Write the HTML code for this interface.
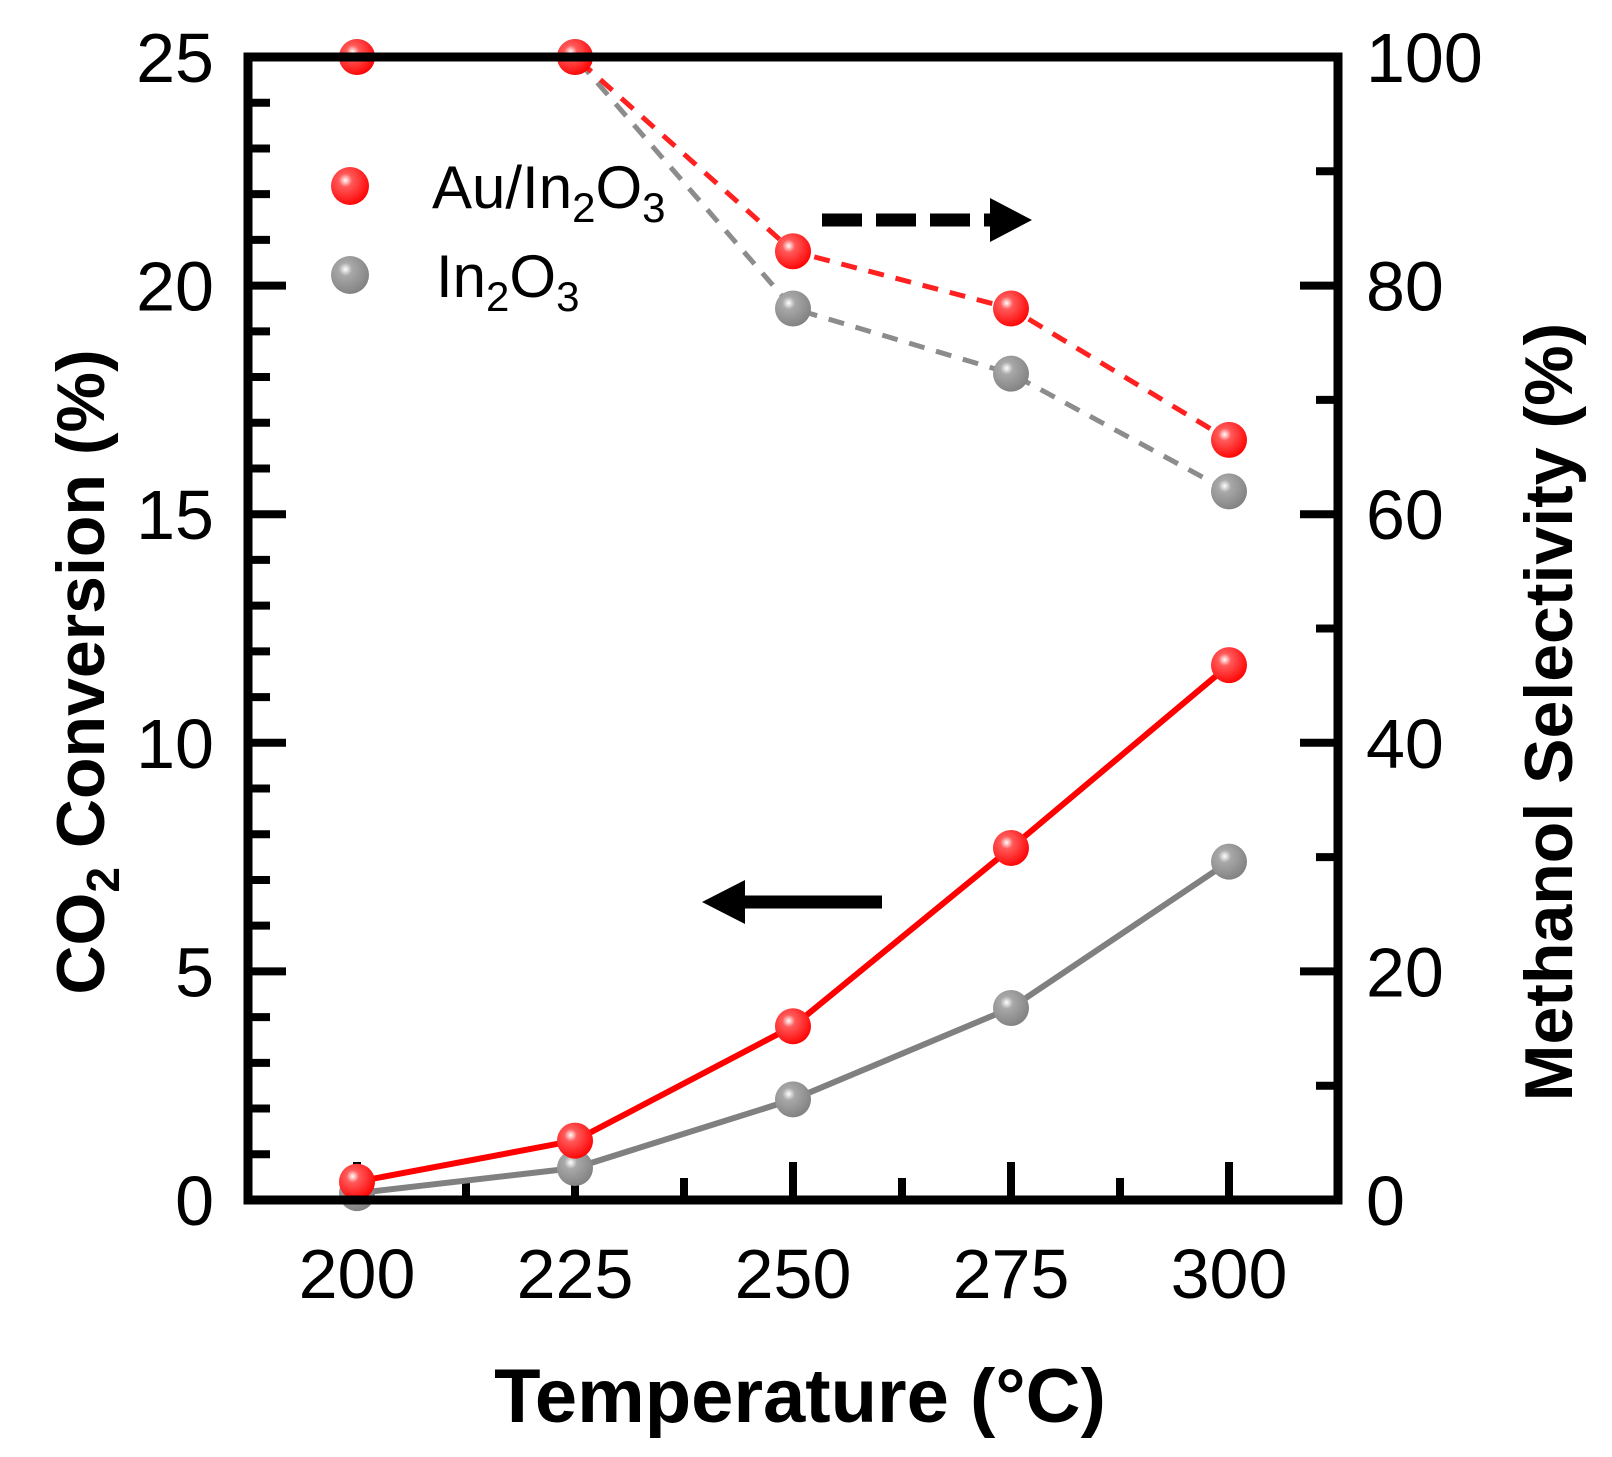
<!DOCTYPE html>
<html><head><meta charset="utf-8"><style>
body{margin:0;background:#fff}
svg{display:block;font-family:"Liberation Sans",sans-serif}
</style></head><body>
<svg id="chart" width="1612" height="1457" viewBox="0 0 1612 1457" xmlns="http://www.w3.org/2000/svg">
<defs>
<radialGradient id="gr" cx="0.38" cy="0.35" r="0.7"><stop offset="0" stop-color="#fff"/><stop offset="0.25" stop-color="#ff5a5a"/><stop offset="1" stop-color="#f00"/></radialGradient>
<radialGradient id="gg" cx="0.38" cy="0.35" r="0.7"><stop offset="0" stop-color="#fff"/><stop offset="0.25" stop-color="#a8a8a8"/><stop offset="1" stop-color="#808080"/></radialGradient>
</defs>
<g id="ticks"></g>
<g id="series"></g>
<rect x="248" y="57" width="1090" height="1143" fill="none" stroke="#000" stroke-width="9"/>
<g id="labels" font-size="70" fill="#000"></g>
<text transform="translate(104,672) rotate(-90)" text-anchor="middle" font-size="68" font-weight="bold">CO<tspan font-size="46" dy="15">2</tspan><tspan dy="-15"> Conversion (%)</tspan></text>
<text transform="translate(1572,712) rotate(-90)" text-anchor="middle" font-size="68" font-weight="bold">Methanol Selectivity (%)</text>
<text x="800" y="1422" text-anchor="middle" font-size="76" font-weight="bold">Temperature (°C)</text>
<g>
<circle cx="350" cy="186" r="19" fill="url(#gr)"/>
<text x="432" y="208" font-size="60">Au/In<tspan font-size="42" dy="14">2</tspan><tspan dy="-14">O</tspan><tspan font-size="42" dy="14">3</tspan></text>
<circle cx="350" cy="275" r="19" fill="url(#gg)"/>
<text x="436" y="297" font-size="60">In<tspan font-size="42" dy="14">2</tspan><tspan dy="-14">O</tspan><tspan font-size="42" dy="14">3</tspan></text>
</g>
<g>
<line x1="822" y1="220" x2="995" y2="220" stroke="#000" stroke-width="13" stroke-dasharray="40,14"/>
<polygon points="990,198 1032,220 990,242" fill="#000"/>
</g>
<g>
<line x1="740" y1="902" x2="882" y2="902" stroke="#000" stroke-width="13"/>
<polygon points="745,880 702,902 745,924" fill="#000"/>
</g>
</svg>
<script>
const temps=[200,225,250,275,300];
const convAu=[0.4,1.3,3.8,7.7,11.7];
const convIn=[0.15,0.7,2.2,4.2,7.4];
const selAu=[100,100,83,78,66.5];
const selIn=[100,100,78,72.3,62];
const xTicks=[200,225,250,275,300];
const yLeftTicks=[0,5,10,15,20,25];
const yRightTicks=[0,20,40,60,80,100];
const NS="http://www.w3.org/2000/svg";
const X0=248,X1=1338,Y0=1200,Y1=57;
const xs=v=>X0+(v-187.5)/(312.5-187.5)*(X1-X0);
const yl=v=>Y0-v/25*(Y0-Y1);
const yr=v=>Y0-v/100*(Y0-Y1);
function mk(tag,attrs,parent){const e=document.createElementNS(NS,tag);for(const k in attrs)e.setAttribute(k,attrs[k]);parent.appendChild(e);return e;}
const tg=document.getElementById('ticks'),lg=document.getElementById('labels'),sg=document.getElementById('series');
for(let v=0;v<=25;v+=1){const y=yl(v);const L=v%5===0?38:22;
const t=mk('line',{x1:X0,y1:y,x2:X0+L,y2:y,stroke:'#000','stroke-width':8},tg);

}
for(let v=0;v<=100;v+=10){const y=yr(v);const L=v%20===0?38:22;
const t=mk('line',{x1:X1-L,y1:y,x2:X1,y2:y,stroke:'#000','stroke-width':8},tg);

}
for(let v=200;v<=300;v+=12.5){const x=xs(v);const L=(v%25===0)?38:22;
const t=mk('line',{x1:x,y1:Y0,x2:x,y2:Y0-L,stroke:'#000','stroke-width':8},tg);

}
yLeftTicks.forEach(v=>{const t=mk('text',{x:214,y:yl(v)+25,'text-anchor':'end'},lg);t.textContent=v;

});
yRightTicks.forEach(v=>{const t=mk('text',{x:1366,y:yr(v)+25},lg);t.textContent=v;

});
xTicks.forEach(v=>{const t=mk('text',{x:xs(v),y:1298,'text-anchor':'middle'},lg);t.textContent=v;

});
function series(vals,yf,color,grad,dash,name){
const pts=temps.map((t,i)=>xs(t)+','+yf(vals[i])).join(' ');
const pl=mk('polyline',{points:pts,fill:'none',stroke:color,'stroke-width':dash?5:6,'stroke-dasharray':dash?'16,12':'none'},sg);


temps.forEach((t,i)=>{const c=mk('circle',{cx:xs(t),cy:yf(vals[i]),r:18,fill:'url(#'+grad+')'},sg);

});
}
series(selIn,yr,'#8c8c8c','gg',true,'selectivity-in2o3');
series(selAu,yr,'#ff2020','gr',true,'selectivity-au');
series(convIn,yl,'#808080','gg',false,'conversion-in2o3');
series(convAu,yl,'#ff0000','gr',false,'conversion-au');
</script>
</body></html>
